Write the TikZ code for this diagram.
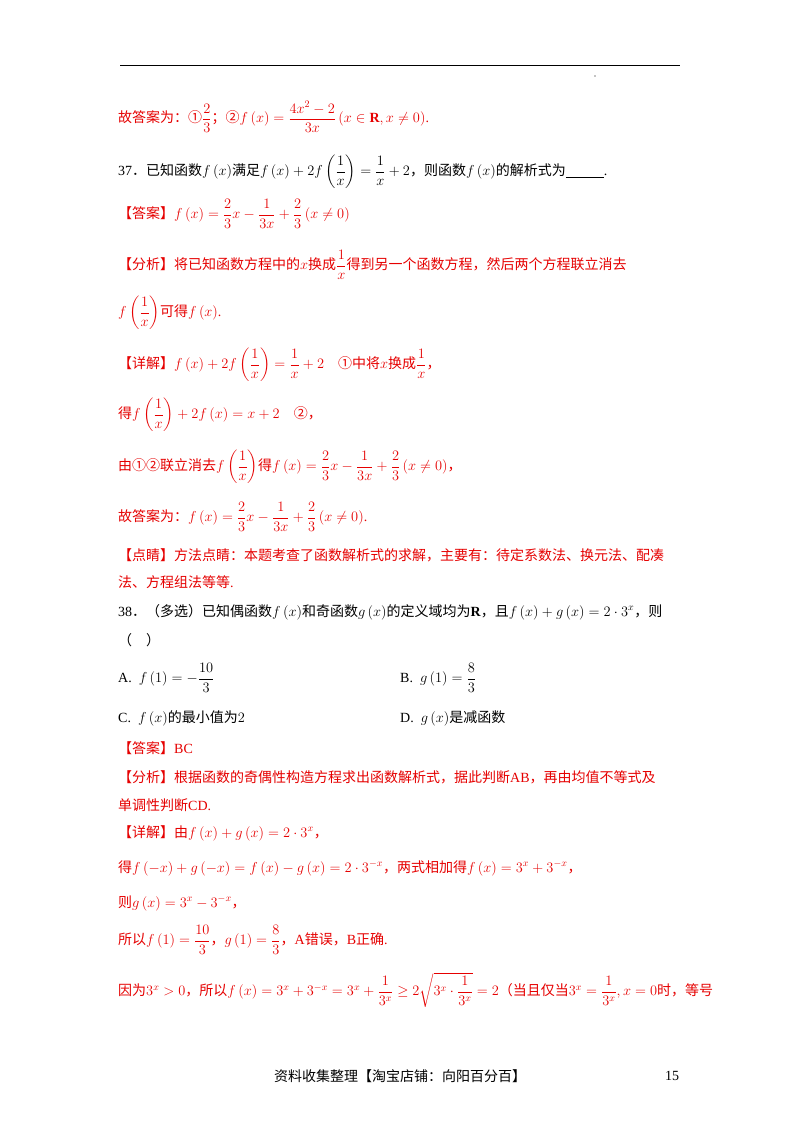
\documentclass[tikz,border=0pt]{standalone}
\usepackage{amsmath,amssymb}
\usepackage{fontspec}
\setmainfont{Liberation Serif}
\newfontfamily\cjk{Noto Sans CJK SC}
\definecolor{rd}{RGB}{230,0,0}
\begin{document}
\begin{tikzpicture}[x=1pt,y=-1pt,
  ln/.style={anchor=west,inner sep=0pt,font=\fontsize{14}{16}\selectfont},
  red/.style={ln,text=rd}]
\useasboundingbox[fill=white] (0,0) rectangle (800,1132);
\draw[line width=0.8pt] (120,65) -- (680,65);
\fill (595,76) circle (0.6);
\node[red] (l1) at (118,117) {{\cjk 故答案为：①}$\dfrac{2}{3}${\cjk ；②}$f\left(x\right)=\dfrac{4x^2-2}{3x}\left(x\in\mathbf{R},x\neq0\right)$.};
\node[ln] (l2) at (118,172) {37{\cjk ．已知函数}$f\left(x\right)${\cjk 满足}$f\left(x\right)+2f\left(\dfrac{1}{x}\right)=\dfrac{1}{x}+2${\cjk ，则函数}$f\left(x\right)${\cjk 的解析式为}\underline{\hspace{38pt}}.};
\node[red] (l3) at (118,214) {{\cjk 【答案】}$f\left(x\right)=\dfrac{2}{3}x-\dfrac{1}{3x}+\dfrac{2}{3}\left(x\neq0\right)$};
\node[red] (l4) at (118,265) {{\cjk 【分析】将已知函数方程中的}$x${\cjk 换成}$\dfrac{1}{x}${\cjk 得到另一个函数方程，然后两个方程联立消去}};
\node[red] (l5) at (118,313) {$f\left(\dfrac{1}{x}\right)${\cjk 可得}$f\left(x\right)$.};
\node[red] (l6) at (118,365) {{\cjk 【详解】}$f\left(x\right)+2f\left(\dfrac{1}{x}\right)=\dfrac{1}{x}+2$\quad{\cjk ①中将}$x${\cjk 换成}$\dfrac{1}{x}${\cjk ，}};
\node[red] (l7) at (118,415) {{\cjk 得}$f\left(\dfrac{1}{x}\right)+2f\left(x\right)=x+2$\quad{\cjk ②，}};
\node[red] (l8) at (118,467) {{\cjk 由①②联立消去}$f\left(\dfrac{1}{x}\right)${\cjk 得}$f\left(x\right)=\dfrac{2}{3}x-\dfrac{1}{3x}+\dfrac{2}{3}\left(x\neq0\right)${\cjk ，}};
\node[red] (l9) at (118,517) {{\cjk 故答案为：}$f\left(x\right)=\dfrac{2}{3}x-\dfrac{1}{3x}+\dfrac{2}{3}\left(x\neq0\right)$.};
\node[red] (l10) at (118,555) {{\cjk 【点睛】方法点睛：本题考查了函数解析式的求解，主要有：待定系数法、换元法、配凑}};
\node[red] (l11) at (118,582) {{\cjk 法、方程组法等等}.};
\node[ln] (l12) at (118,612) {38{\cjk ．（多选）已知偶函数}$f\left(x\right)${\cjk 和奇函数}$g\left(x\right)${\cjk 的定义域均为}$\mathbf{R}${\cjk ，且}$f\left(x\right)+g\left(x\right)=2\cdot3^x${\cjk ，则}};
\node[ln] (l13) at (118,640) {{\cjk （\quad ）}};
\node[ln] (a) at (118,678) {A.\ \ $f\left(1\right)=-\dfrac{10}{3}$};
\node[ln] (b) at (400,678) {B.\ \ $g\left(1\right)=\dfrac{8}{3}$};
\node[ln] (c) at (118,718) {C.\ \ $f\left(x\right)${\cjk 的最小值为}$2$};
\node[ln] (d) at (400,718) {D.\ \ $g\left(x\right)${\cjk 是减函数}};
\node[red] (l14) at (118,748) {{\cjk 【答案】}BC};
\node[red] (l15) at (118,777) {{\cjk 【分析】根据函数的奇偶性构造方程求出函数解析式，据此判断}AB{\cjk ，再由均值不等式及}};
\node[red] (l16) at (118,805) {{\cjk 单调性判断}CD.};
\node[red] (l17) at (118,833) {{\cjk 【详解】由}$f\left(x\right)+g\left(x\right)=2\cdot3^x${\cjk ，}};
\node[red] (l18) at (118,868) {{\cjk 得}$f\left(-x\right)+g\left(-x\right)=f\left(x\right)-g\left(x\right)=2\cdot3^{-x}${\cjk ，两式相加得}$f\left(x\right)=3^x+3^{-x}${\cjk ，}};
\node[red] (l19) at (118,903) {{\cjk 则}$g\left(x\right)=3^x-3^{-x}${\cjk ，}};
\node[red] (l20) at (118,940) {{\cjk 所以}$f\left(1\right)=\dfrac{10}{3}${\cjk ，}$g\left(1\right)=\dfrac{8}{3}${\cjk ，}A{\cjk 错误，}B{\cjk 正确}.};
\node[red] (l21) at (118,990) {{\cjk 因为}$3^x>0${\cjk ，所以}$f\left(x\right)=3^x+3^{-x}=3^x+\dfrac{1}{3^x}\geq2\sqrt{3^x\cdot\dfrac{1}{3^x}}=2${\cjk （当且仅当}$3^x=\dfrac{1}{3^x},x=0${\cjk 时，等号}};
\node[ln,anchor=center] (ft) at (400,1076) {{\cjk 资料收集整理【淘宝店铺：向阳百分百】}};
\node[ln,anchor=center] (pg) at (672,1076) {15};
\end{tikzpicture}
\end{document}
